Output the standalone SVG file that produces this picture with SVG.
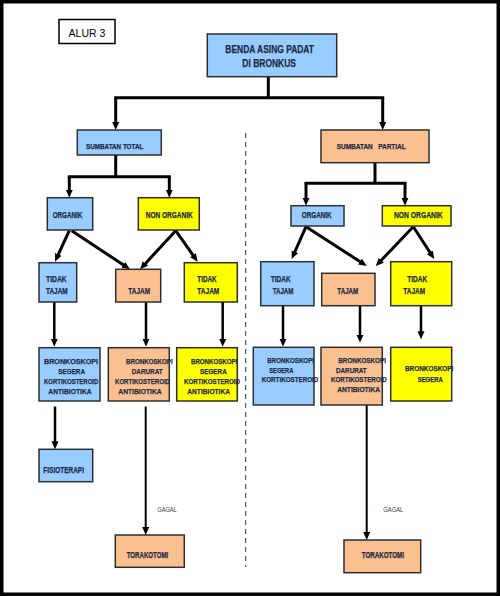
<svg xmlns="http://www.w3.org/2000/svg" width="500" height="596" viewBox="0 0 500 596">
<defs>
<style>
.b{fill:#99CCFF;stroke:#2e2e2e;stroke-width:1.5}
.o{fill:#FAC090;stroke:#2e2e2e;stroke-width:1.5}
.y{fill:#FFFF00;stroke:#2e2e2e;stroke-width:1.5}
.t{font-family:"Liberation Sans",Arial,sans-serif;font-weight:bold;fill:#1d2a44;stroke:#1d2a44;stroke-width:0.25;font-size:8.5px}
.s{font-size:8px}
.n{font-family:"Liberation Sans",Arial,sans-serif;fill:#3a3a3a;font-size:8px}
.k{fill:none;stroke:#000;stroke-width:3}
.k2{fill:none;stroke:#000;stroke-width:2.5}
.k3{fill:none;stroke:#000;stroke-width:2}
</style>
<marker id="ah" markerUnits="userSpaceOnUse" markerWidth="9" markerHeight="8" refX="2" refY="3.5" orient="auto">
<path d="M0,0 L8,3.5 L0,7 z" fill="#000"/>
</marker>
</defs>
<rect x="0" y="0" width="500" height="596" fill="#fff"/>
<rect x="1.75" y="1.75" width="496.5" height="592.5" fill="none" stroke="#000" stroke-width="3.5"/>

<g id="alur3">
<rect x="59" y="19.5" width="56" height="24" fill="#fff" stroke="#000" stroke-width="1.5"/>
<text x="87" y="36.5" text-anchor="middle" font-family="Liberation Sans,Arial,sans-serif" font-size="10.5" fill="#000">ALUR 3</text>
</g>

<g id="connectors">
<line x1="245.7" y1="133" x2="245.7" y2="567" stroke="#333" stroke-width="1" stroke-dasharray="5 4"/>
<path class="k" d="M268.3,76.7 V97.7 M114.2,97.7 H384.2"/>
<line class="k" x1="115.7" y1="97.7" x2="115.7" y2="124" marker-end="url(#ah)"/>
<line class="k" x1="382.7" y1="97.7" x2="382.7" y2="124" marker-end="url(#ah)"/>
<path class="k" d="M115.7,155 V176.7 M67.8,176.7 H170.8"/>
<line class="k" x1="69.3" y1="176.7" x2="69.3" y2="191.7" marker-end="url(#ah)"/>
<line class="k" x1="169.3" y1="176.7" x2="169.3" y2="191.7" marker-end="url(#ah)"/>
<path class="k" d="M375,162.7 V183.3 M304.5,183.3 H406.5"/>
<line class="k" x1="306" y1="183.3" x2="306" y2="199.7" marker-end="url(#ah)"/>
<line class="k" x1="405" y1="183.3" x2="405" y2="199.7" marker-end="url(#ah)"/>
<line class="k" x1="69.3" y1="230.7" x2="57.5" y2="256.2" marker-end="url(#ah)"/>
<line class="k" x1="71.7" y1="230.7" x2="125" y2="266" marker-end="url(#ah)"/>
<line class="k" x1="175.7" y1="230.7" x2="144.1" y2="264.9" marker-end="url(#ah)"/>
<line class="k" x1="175.7" y1="230.7" x2="194.2" y2="256.8" marker-end="url(#ah)"/>
<line class="k" x1="306" y1="226.7" x2="294.1" y2="253.5" marker-end="url(#ah)"/>
<line class="k" x1="306" y1="226.7" x2="361.7" y2="262.7" marker-end="url(#ah)"/>
<line class="k" x1="413.3" y1="226.7" x2="379.9" y2="261.7" marker-end="url(#ah)"/>
<line class="k" x1="413.3" y1="226.7" x2="431" y2="254" marker-end="url(#ah)"/>
<line class="k2" x1="54.3" y1="302" x2="54.3" y2="340.7" marker-end="url(#ah)"/>
<line class="k2" x1="146" y1="302" x2="146" y2="340.7" marker-end="url(#ah)"/>
<line class="k2" x1="222.7" y1="302" x2="222.7" y2="340.7" marker-end="url(#ah)"/>
<line class="k2" x1="283" y1="305.7" x2="283" y2="340.7" marker-end="url(#ah)"/>
<line class="k2" x1="360" y1="305.7" x2="360" y2="336.7" marker-end="url(#ah)"/>
<line class="k2" x1="421" y1="305.7" x2="421" y2="333.3" marker-end="url(#ah)"/>
<line class="k2" x1="55" y1="406.5" x2="55" y2="443.3" marker-end="url(#ah)"/>
<line class="k3" x1="145.7" y1="406.5" x2="145.7" y2="529" marker-end="url(#ah)"/>
<line class="k3" x1="366.7" y1="402" x2="366.7" y2="534" marker-end="url(#ah)"/>
<text class="n" x="157.3" y="511.7" textLength="19.3" lengthAdjust="spacingAndGlyphs">GAGAL</text>
<text class="n" x="383.3" y="511.7" textLength="20" lengthAdjust="spacingAndGlyphs">GAGAL</text>
</g>

<g id="benda">
<rect class="b" x="207.3" y="34" width="129.4" height="42.7"/>
<text class="t" x="225.3" y="53.3" textLength="88.7" lengthAdjust="spacingAndGlyphs" style="font-size:11.5px">BENDA ASING PADAT</text>
<text class="t" x="242.3" y="66.7" textLength="53.7" lengthAdjust="spacingAndGlyphs" style="font-size:11.5px">DI BRONKUS</text>
</g>

<g id="sumbatan-total">
<rect class="b" x="77.3" y="130" width="84" height="25"/>
<text class="t" x="86" y="149" textLength="57.3" lengthAdjust="spacingAndGlyphs" style="font-size:7.5px">SUMBATAN TOTAL</text>
</g>
<g id="sumbatan-partial">
<rect class="o" x="321" y="130" width="108" height="32.7"/>
<text class="t" x="336.7" y="149" textLength="69" lengthAdjust="spacingAndGlyphs" style="font-size:7.5px;white-space:pre">SUMBATAN   PARTIAL</text>
</g>

<g id="organik-l">
<rect class="b" x="47.3" y="197.7" width="45.4" height="32.3"/>
<text class="t" x="52.7" y="218.3" textLength="29.6" lengthAdjust="spacingAndGlyphs">ORGANIK</text>
</g>
<g id="nonorganik-l">
<rect class="y" x="138.3" y="197.7" width="61" height="32.3"/>
<text class="t" x="145.7" y="218.3" textLength="47" lengthAdjust="spacingAndGlyphs">NON ORGANIK</text>
</g>
<g id="organik-r">
<rect class="b" x="291" y="205.7" width="53" height="20.3"/>
<text class="t" x="301.7" y="218.3" textLength="30" lengthAdjust="spacingAndGlyphs">ORGANIK</text>
</g>
<g id="nonorganik-r">
<rect class="y" x="382.3" y="205.7" width="68.7" height="20.3"/>
<text class="t" x="394" y="218.3" textLength="48.7" lengthAdjust="spacingAndGlyphs">NON ORGANIK</text>
</g>

<g id="tidak-tajam-l1">
<rect class="b" x="39" y="262.7" width="37.7" height="39.3"/>
<text class="t" x="46" y="282.3" textLength="20.7" lengthAdjust="spacingAndGlyphs">TIDAK</text>
<text class="t" x="46" y="294" textLength="21.7" lengthAdjust="spacingAndGlyphs">TAJAM</text>
</g>
<g id="tajam-l">
<rect class="o" x="115.7" y="269.3" width="45" height="32.7"/>
<text class="t" x="128.3" y="294" textLength="21.7" lengthAdjust="spacingAndGlyphs">TAJAM</text>
</g>
<g id="tidak-tajam-l2">
<rect class="y" x="184.3" y="262.7" width="53" height="39.3"/>
<text class="t" x="197.3" y="282.3" textLength="19.4" lengthAdjust="spacingAndGlyphs">TIDAK</text>
<text class="t" x="197.3" y="294" textLength="22" lengthAdjust="spacingAndGlyphs">TAJAM</text>
</g>
<g id="tidak-tajam-r1">
<rect class="b" x="260.7" y="261.7" width="53.3" height="44"/>
<text class="t" x="270.7" y="282.3" textLength="20" lengthAdjust="spacingAndGlyphs">TIDAK</text>
<text class="t" x="272.7" y="294" textLength="20.6" lengthAdjust="spacingAndGlyphs">TAJAM</text>
</g>
<g id="tajam-r">
<rect class="o" x="321.7" y="273.3" width="53.3" height="32.4"/>
<text class="t" x="337.3" y="294" textLength="21" lengthAdjust="spacingAndGlyphs">TAJAM</text>
</g>
<g id="tidak-tajam-r2">
<rect class="y" x="390.7" y="261.7" width="61" height="44"/>
<text class="t" x="407.3" y="282.3" textLength="20" lengthAdjust="spacingAndGlyphs">TIDAK</text>
<text class="t" x="403.3" y="294" textLength="21.7" lengthAdjust="spacingAndGlyphs">TAJAM</text>
</g>

<g id="bronkoskopi-l1">
<rect class="b" x="39" y="347.7" width="61" height="53.3"/>
<text class="t s" x="44" y="364" textLength="54" lengthAdjust="spacingAndGlyphs">BRONKOSKOPI</text>
<text class="t s" x="58.3" y="373.5" textLength="26.7" lengthAdjust="spacingAndGlyphs">SEGERA</text>
<text class="t s" x="44" y="383.5" textLength="54.3" lengthAdjust="spacingAndGlyphs">KORTIKOSTEROID</text>
<text class="t s" x="48.3" y="393.5" textLength="43.3" lengthAdjust="spacingAndGlyphs">ANTIBIOTIKA</text>
</g>
<g id="bronkoskopi-l2">
<rect class="o" x="108.3" y="347.7" width="61" height="53.3"/>
<text class="t s" x="126" y="364" textLength="46.7" lengthAdjust="spacingAndGlyphs">BRONKOSKOPI</text>
<text class="t s" x="131.7" y="373.5" textLength="31" lengthAdjust="spacingAndGlyphs">DARURAT</text>
<text class="t s" x="115" y="383.5" textLength="55" lengthAdjust="spacingAndGlyphs">KORTIKOSTEROID</text>
<text class="t s" x="118.3" y="393.5" textLength="43.3" lengthAdjust="spacingAndGlyphs">ANTIBIOTIKA</text>
</g>
<g id="bronkoskopi-l3">
<rect class="y" x="176.7" y="347.7" width="60.6" height="53.3"/>
<text class="t s" x="191" y="364" textLength="46.3" lengthAdjust="spacingAndGlyphs">BRONKOSKOPI</text>
<text class="t s" x="200" y="373.5" textLength="26.7" lengthAdjust="spacingAndGlyphs">SEGERA</text>
<text class="t s" x="184" y="383.5" textLength="56" lengthAdjust="spacingAndGlyphs">KORTIKOSTEROID</text>
<text class="t s" x="187.3" y="393.5" textLength="42.7" lengthAdjust="spacingAndGlyphs">ANTIBIOTIKA</text>
</g>
<g id="bronkoskopi-r1">
<rect class="b" x="253.3" y="347.3" width="60.7" height="57.7"/>
<text class="t s" x="267.3" y="363.3" textLength="46.7" lengthAdjust="spacingAndGlyphs">BRONKOSKOPI</text>
<text class="t s" x="269.3" y="372.7" textLength="24" lengthAdjust="spacingAndGlyphs">SEGERA</text>
<text class="t s" x="261.7" y="381.7" textLength="56.6" lengthAdjust="spacingAndGlyphs">KORTIKOSTEROID</text>
</g>
<g id="bronkoskopi-r2">
<rect class="o" x="321" y="347.3" width="61.3" height="57.7"/>
<text class="t s" x="338.3" y="363.3" textLength="47.7" lengthAdjust="spacingAndGlyphs">BRONKOSKOPI</text>
<text class="t s" x="336" y="372.7" textLength="30.7" lengthAdjust="spacingAndGlyphs">DARURAT</text>
<text class="t s" x="331" y="381.7" textLength="55.7" lengthAdjust="spacingAndGlyphs">KORTIKOSTEROID</text>
<text class="t s" x="337.3" y="391.7" textLength="42.7" lengthAdjust="spacingAndGlyphs">ANTIBIOTIKA</text>
</g>
<g id="bronkoskopi-r3">
<rect class="y" x="390.7" y="347.3" width="61" height="53.7"/>
<text class="t s" x="405" y="371" textLength="48.3" lengthAdjust="spacingAndGlyphs">BRONKOSKOPI</text>
<text class="t s" x="417.7" y="381.7" textLength="25" lengthAdjust="spacingAndGlyphs">SEGERA</text>
</g>

<g id="fisioterapi">
<rect class="b" x="39" y="449.3" width="53.7" height="32.4"/>
<text class="t" x="43.3" y="472.7" textLength="40.7" lengthAdjust="spacingAndGlyphs">FISIOTERAPI</text>
</g>
<g id="torakotomi-l">
<rect class="o" x="115.3" y="535" width="69" height="32.3"/>
<text class="t" x="126.7" y="558.3" textLength="41.6" lengthAdjust="spacingAndGlyphs">TORAKOTOMI</text>
</g>
<g id="torakotomi-r">
<rect class="o" x="344" y="540" width="76.7" height="32.7"/>
<text class="t" x="361.7" y="558.3" textLength="42.3" lengthAdjust="spacingAndGlyphs">TORAKOTOMI</text>
</g>
</svg>
